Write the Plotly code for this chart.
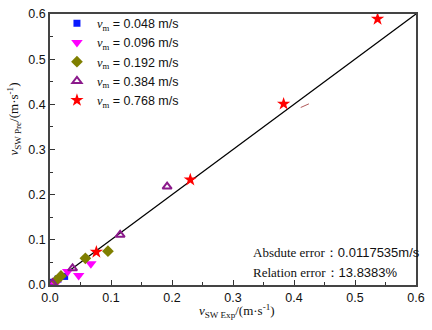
import plotly.graph_objects as go

# ---- data ----
blue_x = [0.002, 0.005, 0.013, 0.024]
blue_y = [0.002, 0.006, 0.013, 0.019]
mag_x = [0.006, 0.012, 0.029, 0.047, 0.067]
mag_y = [0.003, 0.008, 0.030, 0.021, 0.047]
olive_x = [0.010, 0.018, 0.058, 0.095]
olive_y = [0.010, 0.020, 0.059, 0.075]
purp_x = [0.004, 0.037, 0.115, 0.192]
purp_y = [0.004, 0.037, 0.111, 0.218]
red_x = [0.076, 0.230, 0.383, 0.537]
red_y = [0.073, 0.233, 0.401, 0.589]
line_x = [0.0, 0.6]
line_y = [0.0, 0.6]
dash_x = [0.411, 0.426]
dash_y = [0.393, 0.402]
labels = ["0.048", "0.096", "0.192", "0.384", "0.768"]
ticks = [0.0, 0.1, 0.2, 0.3, 0.4, 0.5, 0.6]

SERIF = "Liberation Serif, Times New Roman, serif"
SANS = "Liberation Sans, Arial, sans-serif"

def lab(v):
    return ('<span style="font-family:Liberation Serif"><i>v</i><sub>m</sub></span>'
            f' = {v} m/s')

fig = go.Figure()
fig.add_trace(go.Scatter(x=line_x, y=line_y, mode="lines",
                         line=dict(color="black", width=1.3), showlegend=False))
fig.add_trace(go.Scatter(x=dash_x, y=dash_y, mode="lines",
                         line=dict(color="#b05a5a", width=1, dash="dash"), showlegend=False))

series = [
    (blue_x, blue_y, "square", "#0a1aff", 7, None),
    (mag_x, mag_y, "triangle-down", "#ff00ff", 10, None),
    (olive_x, olive_y, "diamond", "#7f7f00", 9, None),
    (purp_x, purp_y, "triangle-up-open", "#8b1a8b", 8, 2),
    (red_x, red_y, "star", "#ff0000", 10, None),
]
for (xs, ys, sym, col, sz, lw), v in zip(series, labels):
    m = dict(symbol=sym, color=col, size=sz)
    if lw:
        m["line"] = dict(color=col, width=lw)
    else:
        m["line"] = dict(width=0)
    fig.add_trace(go.Scatter(x=xs, y=ys, mode="markers", marker=m, name=lab(v)))

axis_common = dict(
    range=[0, 0.6], tickvals=ticks, tickformat=".1f",
    ticks="inside", ticklen=5, tickwidth=1.2, tickcolor="#333",
    minor=dict(ticks="inside", ticklen=3, tickwidth=1, tickcolor="#333", dtick=0.05),
    showline=True, linecolor="#444", linewidth=1.8, mirror=True,
    showgrid=False, zeroline=False, ticklabeloverflow="allow",
    tickfont=dict(family=SANS, size=12.5, color="#111"),
)

fig.update_layout(
    width=432, height=330,
    margin=dict(l=50, r=11, t=7, b=45),
    plot_bgcolor="white", paper_bgcolor="white",
    xaxis=dict(**axis_common),
    yaxis=dict(**axis_common),
    legend=dict(x=0.019, y=1.02, xanchor="left", yanchor="top",
                bgcolor="rgba(0,0,0,0)", itemwidth=30,
                font=dict(family=SANS, size=12.5, color="#111"), tracegroupgap=0),
    showlegend=True,
)

fig.add_annotation(
    x=0.512, y=-0.097, xref="paper", yref="paper", xanchor="center", yanchor="middle",
    showarrow=False, text="<i>v</i><sub>SW Exp</sub>/(m·s<sup>-1</sup>)",
    font=dict(family=SERIF, size=13, color="#111"))
fig.add_annotation(
    x=-0.098, y=0.611, xref="paper", yref="paper", xanchor="center", yanchor="middle",
    showarrow=False, textangle=-90, text="<i>v</i><sub>SW Pre</sub>/(m·s<sup>-1</sup>)",
    font=dict(family=SERIF, size=13, color="#111"))

fig.add_annotation(
    x=0.55, y=0.119, xref="paper", yref="paper", xanchor="left", yanchor="middle",
    showarrow=False, align="left",
    text='<span style="font-family:Liberation Serif">Absdute error：</span>0.0117535m/s',
    font=dict(family=SANS, size=13, color="#111"))
fig.add_annotation(
    x=0.55, y=0.045, xref="paper", yref="paper", xanchor="left", yanchor="middle",
    showarrow=False, align="left",
    text='<span style="font-family:Liberation Serif">Relation error：</span>13.8383%',
    font=dict(family=SANS, size=13, color="#111"))
fig.write_html("out.html", config={"displayModeBar": False},
               post_script="document.body.style.margin='0';")
